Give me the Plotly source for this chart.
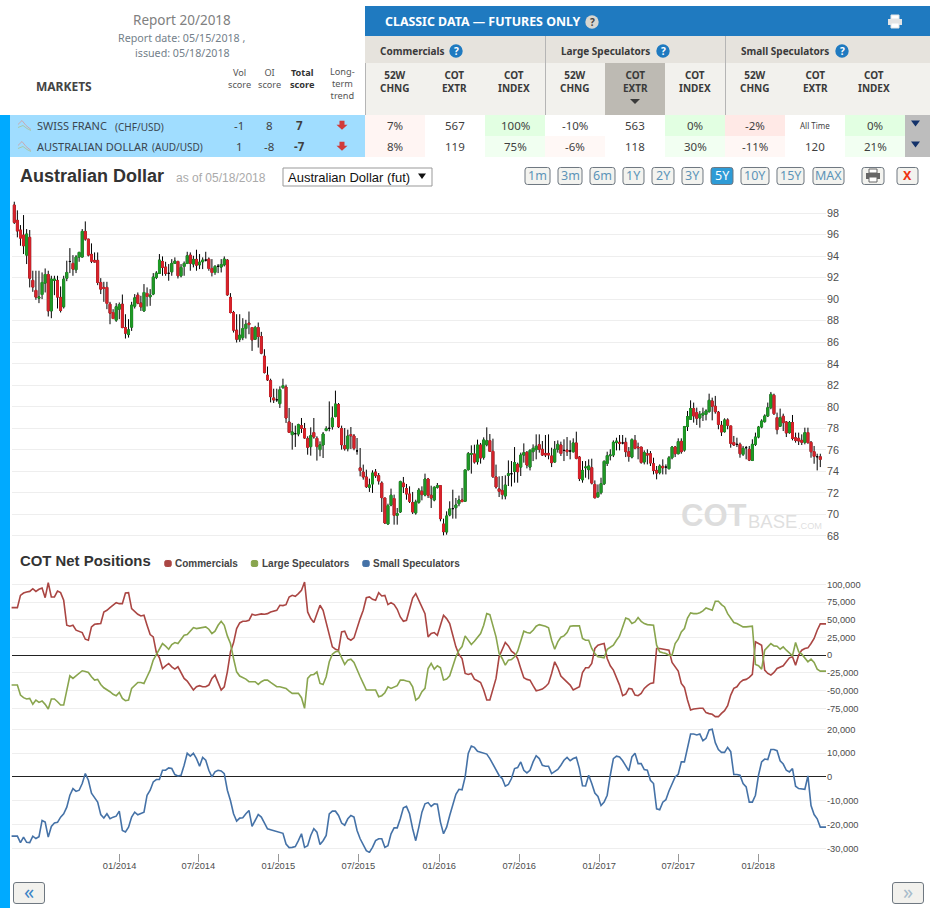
import plotly.graph_objects as go

# weekly AUD futures prices
opens = [98.74,97.32,96.42,95.95,94.09,95.74,91.74,90.81,90.09,90.43,
    91.49,92.29,88.91,91.74,91.74,90.16,89.29,91.95,93.5,93.32,
    92.73,93.91,93.91,96.29,95.58,94.16,93.6,93.6,91.55,91.09,
    91.09,89.53,88.76,88.05,89.07,89.53,87.36,86.71,87.4,89.35,
    90.37,89.63,88.91,90.53,90.22,90.47,92.02,92.39,93.5,92.98,
    92.4,92.54,93.32,93.5,92.17,93.04,93.32,94.09,93.26,93.69,
    93.19,93.47,93.63,93.72,92.85,92.48,93.05,92.98,93.19,93.63,
    90.16,88.76,87.12,86.28,86.43,87.27,87.77,87.36,86.28,87.36,
    86.53,84.7,82.93,82.43,80.82,80.65,80.29,81.78,81.84,78.59,
    77.41,77.5,77.47,78.25,77.97,77.04,76.3,77.6,77.07,76.02,
    76.45,77.81,78.0,78.15,79.11,80.2,77.97,76.39,76.11,77.41,
    77.29,75.9,74.32,73.94,73.48,72.52,72.83,73.94,73.6,72.92,
    71.53,69.11,70.88,71.47,69.92,70.23,72.92,72.4,71.9,71.1,
    70.14,71.13,72.15,71.81,73.29,71.78,71.34,72.52,72.67,69.11,
    68.37,69.95,70.54,70.63,71.0,71.34,71.22,74.16,75.59,75.62,
    74.9,76.45,75.31,76.48,76.85,75.86,73.48,72.37,72.23,71.71,
    73.63,73.78,74.0,74.65,74.4,75.52,75.77,74.4,75.83,76.02,
    76.48,76.05,75.67,75.67,75.43,74.87,76.05,76.45,75.95,75.98,
    75.89,75.83,76.64,75.33,73.22,74.34,74.16,74.34,72.79,71.64,
    72.02,72.85,74.74,75.46,75.52,76.67,76.7,76.64,76.7,75.83,
    75.33,76.88,76.26,76.26,74.87,75.64,75.64,74.71,74.09,73.88,
    74.47,74.4,74.25,75.27,76.26,75.64,76.79,75.98,78.16,78.84,
    79.83,79.46,78.96,79.24,79.3,79.55,80.54,80.05,79.49,78.28,
    77.69,78.78,78.22,76.67,76.51,76.51,75.58,76.2,76.05,75.02,
    76.51,77.19,78.12,78.62,79.15,79.92,81.07,78.99,78.19,79.12,
    78.59,77.6,78.53,77.13,77.07,76.88,76.7,77.6,76.7,75.83,
    75.36,75.36]
highs = [99.05,98.25,96.88,97.81,96.51,96.42,92.64,92.64,92.64,92.48,
    92.85,92.64,92.17,92.17,92.17,91.18,92.17,93.57,94.74,94.09,
    94.09,94.4,96.51,97.22,95.58,95.18,94.34,94.34,91.95,91.61,
    91.61,89.75,89.07,89.63,89.69,90.43,88.6,88.14,89.75,90.47,
    90.62,90.31,91.4,91.09,90.93,92.42,92.6,94.19,93.97,93.47,
    93.26,93.72,93.88,93.57,93.26,93.5,94.4,94.34,94.03,94.59,
    94.19,93.88,94.4,93.88,93.72,93.16,93.26,93.72,93.97,93.72,
    90.56,88.91,88.6,88.6,88.23,88.08,88.85,87.36,87.52,87.83,
    86.96,85.35,83.74,82.61,81.68,81.68,81.9,82.61,82.06,79.89,
    78.5,78.25,78.43,78.96,78.5,77.26,78.09,78.96,77.26,76.79,
    77.66,78.19,80.5,80.04,81.5,80.35,78.25,78.03,77.88,78.12,
    77.47,77.1,76.17,74.63,74.16,73.33,74.1,74.22,73.85,73.08,
    71.53,71.0,72.4,71.84,70.6,73.14,73.48,72.83,72.61,72.09,
    71.37,72.46,72.61,73.79,73.39,72.67,72.61,72.92,72.67,69.61,
    70.29,71.22,72.3,71.53,71.75,72.46,74.16,75.8,76.42,76.48,
    76.95,76.64,77.16,78.09,77.47,77.04,74.63,73.54,73.57,73.63,
    75.02,74.96,76.26,74.81,75.74,76.6,75.89,76.05,76.51,77.44,
    77.44,76.82,77.38,77.44,76.2,76.82,76.88,76.76,76.98,77.19,
    76.88,77.07,77.69,75.43,74.96,74.96,75.12,75.18,73.16,72.79,
    73.41,75.02,75.83,76.05,76.88,77.13,77.38,77.38,77.13,76.26,
    77.07,77.38,76.67,76.26,75.95,76.05,75.89,75.27,74.5,74.65,
    75.12,74.65,75.43,76.36,76.36,77.07,77.07,78.22,79.61,80.6,
    80.39,79.92,79.61,79.92,79.77,81.22,80.85,81.01,79.61,78.68,
    78.93,78.93,78.22,77.29,77.13,76.67,76.36,76.36,76.36,76.98,
    77.6,78.22,78.84,79.3,80.39,81.38,81.22,79.46,79.83,79.36,
    78.68,78.68,79.24,77.6,77.6,77.44,78.06,78.06,76.82,76.36,
    75.64,75.64]
lows = [96.98,95.74,94.96,94.19,93.26,91.09,90.68,89.94,89.63,90.0,
    90.62,88.39,88.23,90.37,89.13,88.76,89.13,91.67,92.42,92.17,
    92.42,93.47,93.88,95.43,93.97,93.35,93.41,91.3,90.47,89.75,
    89.07,87.67,88.14,87.89,88.14,87.3,86.34,86.43,87.05,89.13,
    89.53,88.91,88.82,89.32,89.38,90.37,91.86,92.33,92.17,92.17,
    91.71,92.17,93.26,91.92,92.02,92.17,93.26,92.64,92.95,92.64,
    92.79,92.79,93.5,92.64,92.11,92.26,92.42,92.48,93.04,90.31,
    88.67,86.9,85.97,86.03,86.19,86.34,86.74,85.19,86.22,85.5,
    84.88,83.09,82.4,80.41,80.35,80.45,79.89,81.68,78.5,77.57,
    76.02,76.27,77.26,77.57,77.04,75.55,75.46,77.04,75.0,75.4,
    75.24,77.72,77.72,77.88,79.02,78.03,76.02,75.93,75.86,76.08,
    75.96,75.55,73.54,73.23,72.46,72.09,72.0,73.39,72.77,70.23,
    69.11,69.05,70.76,69.05,69.05,70.14,71.99,71.37,71.06,70.04,
    69.98,71.0,71.31,71.68,71.53,70.6,71.22,72.4,69.36,68.06,
    68.12,69.83,69.61,69.61,70.76,71.16,71.16,74.07,73.79,74.72,
    74.63,74.72,75.09,76.33,75.8,73.39,72.4,71.62,71.4,71.4,
    72.64,72.6,72.95,72.95,73.57,74.81,74.28,74.09,74.96,75.12,
    75.74,75.43,75.33,75.12,74.4,74.81,75.74,75.43,74.96,75.43,
    75.12,75.74,75.12,73.1,72.95,73.41,73.26,72.79,71.49,71.55,
    71.86,72.73,74.5,75.02,75.33,75.95,75.95,76.51,75.33,74.9,
    75.21,76.05,75.12,74.71,74.65,74.65,74.5,73.72,73.26,73.72,
    73.72,73.72,74.19,75.12,75.33,75.58,75.64,75.83,77.75,78.78,
    78.53,78.31,78.06,78.68,78.74,79.46,78.74,79.36,77.91,77.29,
    77.6,77.91,76.2,76.36,76.26,75.27,75.43,75.12,74.96,74.96,
    76.36,77.07,78.0,78.53,79.05,79.77,79.24,77.44,78.12,77.75,
    77.19,77.5,76.88,76.67,76.45,76.45,76.51,76.57,75.27,74.71,
    74.09,74.4]
closes = [97.13,96.33,95.67,94.96,96.05,91.95,91.12,90.19,90.19,91.55,
    92.29,88.91,91.86,91.86,90.19,88.95,91.86,92.48,93.5,92.79,
    93.91,94.34,96.29,95.58,94.09,93.53,93.44,91.55,90.93,90.99,
    89.6,88.7,88.2,89.29,89.5,87.36,86.84,87.15,89.44,90.12,
    89.63,89.29,90.62,90.25,90.37,92.05,92.42,93.63,92.95,92.39,
    92.4,93.32,93.53,92.17,92.95,93.32,94.03,93.32,93.69,93.16,
    93.44,93.63,93.63,92.85,92.48,93.04,93.05,93.22,93.72,90.4,
    88.76,87.12,86.28,86.65,87.27,87.67,87.64,86.22,87.36,86.53,
    84.98,83.18,82.5,80.94,80.63,80.65,81.59,81.96,78.96,77.63,
    77.66,77.5,78.34,78.0,77.1,76.24,77.32,77.2,76.3,76.45,
    77.47,77.97,78.0,78.96,80.26,78.15,76.48,76.11,77.29,77.32,
    76.14,75.9,74.07,73.48,72.58,72.74,73.85,73.6,73.11,71.56,
    69.21,70.82,71.78,69.92,70.07,73.05,72.58,71.9,71.22,70.23,
    71.16,72.27,71.84,73.29,71.78,71.53,72.52,72.67,69.61,68.4,
    69.86,70.51,70.54,70.88,71.34,71.19,74.13,75.65,75.65,74.87,
    76.45,75.24,76.92,76.85,75.86,73.51,72.55,72.15,71.86,72.73,
    73.78,73.78,74.81,73.97,75.52,75.74,74.59,75.95,76.14,76.33,
    76.05,75.52,75.52,75.52,74.81,76.05,76.51,75.67,75.95,75.83,
    75.89,76.64,75.21,73.35,74.09,74.4,74.5,72.91,71.55,72.02,
    72.85,74.93,75.46,75.52,76.7,76.82,76.6,76.64,75.83,75.4,
    76.95,76.14,76.2,74.84,75.74,75.52,74.78,74.09,73.84,74.5,
    74.34,74.4,75.27,76.26,75.64,76.76,75.83,78.16,79.09,79.83,
    79.15,78.93,79.3,79.4,79.61,80.6,80.05,79.55,78.37,77.66,
    78.78,78.28,76.6,76.45,76.51,75.64,76.14,76.2,75.05,76.51,
    77.19,78.12,78.68,79.15,79.92,81.16,79.36,77.88,78.99,78.53,
    77.57,78.53,77.07,76.88,76.82,76.7,77.6,76.67,75.83,75.4,
    75.36,75.12]

# net positions in thousands of contracts, one value per week
commercials_k = [67.1,67.1,67.1,84.4,87.7,89.1,90.0,93.8,90.0,92.9,
    94.7,81.1,102.2,82.1,82.1,90.5,88.2,77.4,42.2,40.8,
    42.2,35.2,33.8,31.9,22.5,21.1,39.9,43.6,44.1,44.6,
    61.0,63.3,67.1,71.3,74.1,72.7,72.7,87.7,88.2,65.7,
    61.0,57.7,55.3,56.3,42.2,29.1,25.8,3.8,-3.8,-18.8,
    -15.0,-11.7,-16.4,-19.7,-16.4,-25.8,-32.8,-36.6,-42.2,-49.2,
    -44.6,-43.1,-44.6,-44.6,-42.2,-32.8,-28.1,-39.9,-49.2,-44.6,
    -23.5,4.7,17.4,37.5,45.5,47.8,47.8,49.2,57.7,56.3,
    57.7,58.2,57.7,58.6,61.0,62.4,63.3,70.4,69.9,71.3,
    82.1,84.4,83.0,86.8,91.5,103.2,61.0,51.6,46.0,58.6,
    70.4,63.3,46.9,30.5,11.7,8.4,7.0,32.8,33.8,23.5,
    21.1,24.4,39.9,51.6,63.3,81.1,82.1,78.8,77.4,88.2,
    83.5,84.4,71.3,74.1,71.3,64.7,53.9,47.8,49.2,65.7,
    80.7,86.8,77.4,68.0,58.6,25.8,30.5,31.9,28.1,42.2,
    56.3,51.6,44.6,28.1,11.7,0.9,-4.7,-25.8,-27.2,-25.8,
    -33.8,-36.1,-38.5,-49.2,-63.3,-63.3,-49.2,-32.8,-2.3,8.4,
    17.8,13.1,5.6,2.3,-4.7,-18.8,-31.9,-34.2,-35.2,-43.1,
    -50.2,-49.2,-47.8,-44.6,-39.9,-25.8,-9.4,-17.8,-29.5,-33.8,
    -38.5,-42.2,-49.2,-46.9,-44.6,-24.4,-17.8,-17.8,-11.7,9.4,
    14.1,15.5,16.4,-4.7,-15.0,-21.1,-32.8,-42.2,-57.2,-54.9,
    -46.9,-47.8,-56.3,-57.2,-53.9,-46.9,-43.1,-39.9,-38.9,9.4,
    9.4,8.4,8.0,7.0,-10.3,-16.4,-22.5,-39.9,-45.5,-63.3,
    -77.4,-76.0,-75.0,-75.0,-75.0,-81.1,-82.5,-83.5,-86.8,-86.8,
    -82.1,-78.3,-71.3,-56.3,-46.9,-44.6,-38.5,-35.2,-34.2,-31.4,
    -27.2,18.8,16.4,14.1,-21.1,-25.8,-28.1,-24.4,-18.8,-16.4,
    -15.0,-9.4,-3.8,-2.3,-14.1,0,7.0,9.4,10.3,16.4,
    23.5,35.2,44.1,44.1,44.1]
large_specs_k = [-42.2,-42.2,-42.2,-56.3,-60.0,-61.9,-61.0,-69.4,-63.3,-66.6,
    -64.7,-69.4,-76.0,-61.9,-61.9,-65.7,-70.4,-70.4,-46.9,-29.1,
    -32.8,-29.1,-25.8,-22.0,-23.0,-24.4,-30.5,-35.2,-34.2,-41.3,
    -46.0,-48.3,-51.6,-55.3,-57.2,-52.5,-61.0,-64.3,-63.3,-46.9,
    -42.2,-38.5,-38.5,-39.9,-30.5,-21.1,-7.0,0.9,7.0,16.4,
    12.7,8.4,15.0,17.8,16.4,22.5,28.1,29.1,33.8,38.9,
    37.5,38.5,39.9,39.9,36.6,30.5,33.8,42.2,47.8,42.2,
    27.2,16.4,-4.7,-23.5,-29.5,-31.4,-33.8,-37.5,-37.5,-37.5,
    -41.3,-37.5,-35.2,-35.2,-38.5,-42.2,-44.6,-44.6,-46.0,-46.9,
    -50.7,-53.9,-53.9,-53.9,-60.0,-75.0,-32.8,-28.1,-27.2,-23.5,
    -39.9,-41.3,-30.5,-9.4,1.4,4.7,5.6,-4.7,-13.1,-7.0,
    -5.6,-10.3,-21.1,-30.5,-39.9,-49.2,-49.2,-49.2,-49.2,-58.6,
    -57.2,-53.0,-44.6,-46.9,-44.6,-43.1,-35.2,-35.2,-36.6,-37.5,
    -44.6,-63.3,-60.0,-51.6,-46.9,-18.8,-11.7,-19.7,-15.0,-17.8,
    -35.2,-33.8,-29.1,-14.1,-2.3,7.0,12.2,27.2,21.1,15.0,
    19.7,25.3,30.5,42.2,58.6,57.2,42.2,25.8,2.3,-4.7,
    -14.1,-7.0,-6.1,-2.3,5.6,18.8,33.8,31.9,31.0,35.2,
    40.8,43.1,42.2,40.8,38.5,21.1,8.4,18.8,25.3,27.2,
    31.9,40.8,41.3,41.3,41.3,23.5,21.1,21.1,9.4,2.3,
    -2.3,-2.8,-3.8,8.4,11.7,14.1,21.1,27.2,39.9,52.5,
    50.7,44.6,46.9,53.0,47.8,44.6,43.1,42.2,42.2,14.1,
    4.7,3.3,2.3,0,0,16.4,22.5,32.8,37.5,52.5,
    59.6,58.6,58.6,60.0,62.4,66.6,64.7,63.3,76.0,76.0,
    71.3,68.0,58.6,52.5,46.0,44.6,42.2,39.9,39.9,40.8,
    40.8,-13.1,-15.0,-19.7,7.0,11.7,16.4,13.1,12.7,8.4,
    11.7,7.0,2.3,-0.9,17.8,4.7,1.4,-4.7,-9.4,-5.6,
    -10.3,-19.7,-22.5,-22.5,-22.5]
small_specs_k = [-24.9,-24.9,-24.9,-27.6,-25.3,-27.5,-27.6,-24.9,-25.9,-25.1,
    -18.3,-19.0,-25.3,-20.8,-19.4,-19.1,-16.9,-15.5,-12.7,-7.7,
    -4.9,-6.1,-5.6,-2.8,1.4,-1.4,-6.8,-8.7,-10.6,-15.8,
    -17.3,-15.5,-17.6,-16.9,-16.5,-14.4,-22.5,-23.1,-21.1,-16.9,
    -14.8,-15.9,-15.5,-14.8,-7.7,-5.6,-2.1,-1.1,-1.1,2.8,
    2.8,3.8,3.5,1.0,0.4,0.7,4.9,9.9,8.7,9.9,
    7.7,4.5,8.2,7.0,2.8,0,2.1,2.8,2.5,1.4,
    -5.6,-9.9,-15.5,-18.6,-17.3,-17.2,-15.5,-14.1,-20.8,-18.3,
    -15.8,-16.9,-19.7,-21.8,-22.2,-22.5,-23.0,-23.4,-23.7,-28.2,
    -29.7,-29.6,-29.3,-26.8,-23.9,-29.6,-28.9,-24.6,-21.8,-23.2,
    -28.4,-26.8,-24.6,-15.5,-14.4,-14.4,-16.2,-19.4,-20.3,-17.6,
    -16.2,-16.9,-22.5,-26.0,-28.2,-31.0,-31.7,-29.6,-26.8,-26.0,
    -26.0,-29.6,-28.9,-23.9,-21.4,-21.4,-17.6,-13.0,-12.4,-15.5,
    -21.8,-26.8,-21.1,-14.8,-11.3,-10.8,-12.4,-11.3,-11.5,-19.0,
    -23.9,-21.1,-16.2,-11.3,-7.3,-5.2,-5.4,0,9.9,13.0,
    12.4,10.8,10.4,10.0,9.6,7.7,5.4,2.8,0.6,-0.7,
    -3.9,-3.2,-0.7,3.5,3.9,6.3,2.8,1.7,2.8,6.3,
    8.9,7.7,4.9,4.5,4.5,1.4,2.1,3.1,4.9,7.0,
    8.2,6.8,7.7,8.2,3.5,-3.7,-3.8,0.7,-2.8,-6.8,
    -8.2,-12.0,-10.6,-7.7,0.7,7.7,8.7,8.4,6.8,4.9,
    2.5,8.4,9.9,5.6,5.6,3.1,2.8,-1.4,-2.8,-13.4,
    -13.8,-10.6,-9.6,-5.9,-2.8,0,1.1,6.3,6.3,12.0,
    18.0,18.0,17.6,18.0,15.2,16.2,19.7,20.0,14.4,11.5,
    10.3,10.3,12.4,10.6,1.0,1.0,0.7,-2.8,-4.2,-10.6,
    -10.6,-7.7,0.7,6.3,7.5,7.3,11.5,11.5,11.0,6.8,
    5.4,2.8,2.1,3.5,-3.9,-4.9,-5.1,-5.2,0.4,-12.0,
    -15.8,-17.6,-21.1,-21.1,-21.1]

# the axis is ordinal: week number, the month ticks sit between candles
tick_weeks = [34.1, 59.6, 85.5, 111.4, 137.6, 163.5, 189.4, 215, 240.9]
tick_months = ["01/2014", "07/2014", "01/2015", "07/2015", "01/2016", "07/2016", "01/2017", "07/2017", "01/2018"]

price_ticks = [68, 70, 72, 74, 76, 78, 80, 82, 84, 86, 88, 90, 92, 94, 96, 98]
net_ticks = [-75000, -50000, -25000, 0, 25000, 50000, 75000, 100000]
net_labels = ["-75,000", "-50,000", "-25,000", "0", "25,000", "50,000", "75,000", "100,000"]
small_ticks = [-30000, -20000, -10000, 0, 10000, 20000]
small_labels = ["-30,000", "-20,000", "-10,000", "0", "10,000", "20,000"]

candle_weeks = list(range(len(closes)))
cot_weeks = list(range(-1, 264))

W, H = 930, 908
ARIAL = "Liberation Sans"
UI = "Noto Sans"


def fx(x):
    return x / W


def fy(y):
    return 1 - y / H


shapes = []
notes = []


def rect(x0, y0, x1, y1, fill, line=None):
    shapes.append(dict(type="rect", xref="paper", yref="paper", x0=fx(x0), x1=fx(x1), y0=fy(y0), y1=fy(y1),
        fillcolor=fill, line=dict(color=line or fill, width=1 if line else 0), layer="above"))


def rounded(x0, y0, x1, y1, fill, line, r=2.5):
    p = lambda x, y: f"{fx(x):.5f} {fy(y):.5f}"
    path = (f"M {p(x0 + r, y0)} L {p(x1 - r, y0)} Q {p(x1, y0)} {p(x1, y0 + r)} L {p(x1, y1 - r)} Q {p(x1, y1)} {p(x1 - r, y1)} "
            f"L {p(x0 + r, y1)} Q {p(x0, y1)} {p(x0, y1 - r)} L {p(x0, y0 + r)} Q {p(x0, y0)} {p(x0 + r, y0)} Z")
    shapes.append(dict(type="path", xref="paper", yref="paper", path=path, fillcolor=fill,
        line=dict(color=line, width=1), layer="above"))


def poly(points, fill=None, line=None, width=1):
    path = "M " + " L ".join(f"{fx(x):.5f} {fy(y):.5f}" for x, y in points)
    if fill:
        path += " Z"
    shapes.append(dict(type="path", xref="paper", yref="paper", path=path, fillcolor=fill,
        line=dict(color=line or fill, width=width if line else 0), layer="above"))


def vline(x, y0, y1, color):
    shapes.append(dict(type="line", xref="paper", yref="paper", x0=fx(x), x1=fx(x), y0=fy(y0), y1=fy(y1),
        line=dict(color=color, width=1), layer="above"))


def txt(x, y, text, size=12, color="#444444", anchor="center", font=UI):
    notes.append(dict(xref="paper", yref="paper", x=fx(x), y=fy(y), text=text, showarrow=False, xanchor=anchor,
        yanchor="middle", font=dict(size=size, color=color, family=font), borderpad=0, borderwidth=0))


def help_icon(x, y, fill="#1F7AC0", mark="white"):
    shapes.append(dict(type="circle", xref="paper", yref="paper", x0=fx(x - 6.7), x1=fx(x + 6.7), y0=fy(y - 6.7), y1=fy(y + 6.7),
        fillcolor=fill, line=dict(width=0), layer="above"))
    txt(x, y, "<b>?</b>", 10, mark)


def printer(x, y, color):
    rect(x - 4, y - 7, x + 4, y - 3, "#FFFFFF", color)
    rect(x - 7, y - 3, x + 7, y + 3, color)
    rect(x - 4, y + 1, x + 4, y + 6, "#FFFFFF", color)


def button(x0, x1, label, active=False, color="#5C93B8"):
    fill = "#2E9BD6" if active else "#F3F3EF"
    rounded(x0, 167.5, x1, 184.5, fill, "#6E7780")
    txt((x0 + x1) / 2, 176, label, 12.5, "#FFFFFF" if active else color)


# header panel
rect(365, 6, 930, 36, "#1F7AC0")
rect(365, 36, 930, 63, "#E6E3DD")
rect(365, 63, 905, 115, "#F2F1ED")
rect(905, 63, 930, 115, "#F2F1ED")
rect(605, 63, 665, 115, "#BDBAB3")
vline(365.5, 63, 115, "#B5B5B5")
vline(545.5, 36, 115, "#B5B5B5")
vline(725.5, 36, 115, "#B5B5B5")
txt(385, 22, "<b>CLASSIC DATA — FUTURES ONLY</b>", 12.4, "#FFFFFF", "left")
help_icon(592, 22, "#D8D6D0", "#444444")
printer(895, 22, "#E4E4E4")
for x, name, icon in [(380, "Commercials", 456), (561, "Large Speculators", 663), (741, "Small Speculators", 842)]:
    txt(x, 51, f"<b>{name}</b>", 10, "#3A3A3A", "left")
    help_icon(icon, 51)
for x, top, low in [(394, "52W", "CHNG"), (454, "COT", "EXTR"), (514, "COT", "INDEX"), (574, "52W", "CHNG"),
                    (635, "COT", "EXTR"), (695, "COT", "INDEX"), (754, "52W", "CHNG"), (815, "COT", "EXTR"),
                    (874, "COT", "INDEX")]:
    txt(x, 81.5, f"<b>{top}<br>{low}</b>", 10, "#3A3A3A")
poly([(630, 99), (640, 99), (635, 104)], fill="#3A3A3A")

txt(182, 20, "Report 20/2018", 13.5, "#808080")
txt(182, 38, "Report date: 05/15/2018 ,", 10.7, "#73808A")
txt(182, 53, "issued: 05/18/2018", 10.7, "#73808A")
txt(36, 86.5, "<b>MARKETS</b>", 12, "#444444", "left")
txt(239, 78.5, "Vol<br>score", 9.2, "#555555")
txt(269, 78.5, "OI<br>score", 9.2, "#555555")
txt(302, 78.5, "<b>Total<br>score</b>", 9.2, "#333333")
txt(342, 83.5, "Long-<br>term<br>trend", 9.2, "#555555")

# the two market rows
rect(0, 115, 10, 908, "#00AAFF")
rect(10, 115, 365, 157, "#A0DDFF")
cell_x = [365, 425, 485, 545, 605, 665, 725, 785, 845]
row_one = [("7%", "#FFF5F3"), ("567", "#FFFFFF"), ("100%", "#E2FFE2"), ("-10%", "#FFFFFF"), ("563", "#FFFFFF"),
    ("0%", "#E2FFE2"), ("-2%", "#FFE9E6"), ("All Time", "#FFFFFF"), ("0%", "#E2FFE2")]
row_two = [("8%", "#FFF5F3"), ("119", "#FFFFFF"), ("75%", "#F1FFF1"), ("-6%", "#FFF8F6"), ("118", "#FFFFFF"),
    ("30%", "#F2FFF2"), ("-11%", "#FFF7F5"), ("120", "#FFFFFF"), ("21%", "#F2FFF2")]
for (y0, y1), row in [((115, 136), row_one), ((136, 157), row_two)]:
    for x, (label, fill) in zip(cell_x, row):
        rect(x, y0, x + 60, y1, fill)
        txt(x + 30, (y0 + y1) / 2 + 0.5, label, 8 if label == "All Time" else 11.5, "#3F3F3F")
    rect(905, y0, 930, y1, "#BDBDBD")
    mid = (y0 + y1) / 2 - 2
    poly([(911, mid - 3), (920, mid - 3), (915.5, mid + 3)], fill="#14336B")
    poly([(18, mid + 1), (22, mid - 3), (26, mid + 2), (31, mid + 6)], line="#C9A9B0")
    poly([(18, mid + 4), (23, mid + 2), (27, mid + 5), (31, mid + 7)], line="#A8C8A8")
    top = mid - 2.8
    poly([(339.5, top), (344.5, top), (344.5, top + 4), (347.5, top + 4), (342, top + 9), (336.5, top + 4), (339.5, top + 4)], fill="#D03A3A")

txt(37, 126, "SWISS FRANC", 11, "#3A4650", "left")
txt(115, 126.5, "(CHF/USD)", 10, "#3A4650", "left")
txt(37, 147, "AUSTRALIAN DOLLAR", 11, "#3A4650", "left")
txt(152, 147.5, "(AUD/USD)", 10, "#3A4650", "left")
for y, vol, oi, total in [(126, "-1", "8", "7"), (147, "1", "-8", "-7")]:
    txt(239, y, vol, 11.5, "#3F3F3F")
    txt(269, y, oi, 11.5, "#3F3F3F")
    txt(299, y, f"<b>{total}</b>", 11.5, "#3F3F3F")

# chart title row
txt(20, 176, "<b>Australian Dollar</b>", 18, "#333333", "left", ARIAL)
txt(176, 177.5, "as of 05/18/2018", 12, "#AAAAAA", "left", ARIAL)
rect(283, 168, 432, 186, "#FFFFFF", "#999999")
txt(288, 177, "Australian Dollar (fut)", 13, "#111111", "left", ARIAL)
poly([(418, 173.5), (426, 173.5), (422, 179)], fill="#111111")
for x0, x1, label in [(525, 550, "1m"), (558, 582, "3m"), (590, 615, "6m"), (623, 644, "1Y"), (652, 674, "2Y"),
                      (682, 703, "3Y"), (741, 769, "10Y"), (777, 804, "15Y"), (813, 844, "MAX")]:
    button(x0, x1, label)
button(711, 733, "5Y", active=True)
button(862, 884, "")
printer(873, 176, "#666666")
button(897, 918, "<b>X</b>", color="#EE3311")

# watermark
txt(681, 515, "<b>COT</b>", 31, "#DDDDDD", "left", ARIAL)
txt(748, 521, "BASE", 18.5, "#DFDFDF", "left", ARIAL)
txt(798, 525.5, ".COM", 9.2, "#DFDFDF", "left", ARIAL)

# net positions title with hand placed legend
txt(20, 561, "<b>COT Net Positions</b>", 14.9, "#333333", "left", ARIAL)
for x, text_x, name, color in [(168, 175, "Commercials", "#AA4643"), (254.5, 262, "Large Speculators", "#89A54E"),
                               (366, 373, "Small Speculators", "#4572A7")]:
    rounded(x - 3.2, 560.5, x + 3.2, 566.5, color, color, r=1.5)
    txt(text_x, 563.5, f"<b>{name}</b>", 10, "#444444", "left", ARIAL)

# pager buttons
rounded(13.5, 882.5, 44.5, 903.5, "#F2F1ED", "#6E7780")
txt(29, 891, "«", 20, "#3D85C6")
rounded(892.5, 882.5, 923.5, 903.5, "#F2F1ED", "#6E7780")
txt(908, 891, "»", 20, "#A8BCCB")

fig = go.Figure()
# black wicks first, coloured bodies on top of them
fig.add_trace(go.Candlestick(
    x=candle_weeks, open=opens, high=highs, low=lows, close=closes,
    increasing=dict(line=dict(color="#000000", width=1), fillcolor="#000000"),
    decreasing=dict(line=dict(color="#000000", width=1), fillcolor="#000000"),
    whiskerwidth=0, yaxis="y", hoverinfo="skip",
))
body_open = [o if o != c else None for o, c in zip(opens, closes)]
body_close = [c if o != c else None for o, c in zip(opens, closes)]
body_high = [max(o, c) if o != c else None for o, c in zip(opens, closes)]
body_low = [min(o, c) if o != c else None for o, c in zip(opens, closes)]
fig.add_trace(go.Candlestick(
    x=candle_weeks, open=body_open, high=body_high, low=body_low, close=body_close,
    increasing=dict(line=dict(color="#1F9A26", width=1), fillcolor="#1F9A26"),
    decreasing=dict(line=dict(color="#D9232B", width=1), fillcolor="#D9232B"),
    whiskerwidth=0, yaxis="y", hoverinfo="skip",
))
fig.add_trace(go.Scatter(x=cot_weeks, y=[v * 1000 for v in commercials_k], mode="lines", name="Commercials",
    line=dict(color="#AA4643", width=1.6), yaxis="y2", hoverinfo="skip"))
fig.add_trace(go.Scatter(x=cot_weeks, y=[v * 1000 for v in large_specs_k], mode="lines", name="Large Speculators",
    line=dict(color="#89A54E", width=1.6), yaxis="y2", hoverinfo="skip"))
fig.add_trace(go.Scatter(x=cot_weeks, y=[v * 1000 for v in small_specs_k], mode="lines", name="Small Speculators",
    line=dict(color="#4572A7", width=1.6), yaxis="y3", hoverinfo="skip"))

tick_font = dict(family=ARIAL, size=9.3, color="#4D4D4D")
fig.update_layout(
    width=W, height=H, autosize=False,
    margin=dict(l=0, r=0, t=0, b=0),
    paper_bgcolor="white", plot_bgcolor="white",
    showlegend=False, hovermode=False,
    boxmode="overlay", boxgap=0.12,
    shapes=shapes, annotations=notes,
    xaxis=dict(domain=[fx(11.5), fx(826)], range=[-0.9, 262.85], anchor="y3", showgrid=False, zeroline=False,
        rangeslider=dict(visible=False), tickmode="array", tickvals=tick_weeks, ticktext=tick_months,
        ticks="outside", ticklen=8, tickcolor="#999999", tickwidth=1, ticklabelstandoff=-4, tickfont=tick_font),
    yaxis=dict(domain=[fy(542), fy(200)], range=[67.44, 99.21], anchor="x", side="right", tickmode="array",
        tickvals=price_ticks, gridcolor="#EEEEEE", gridwidth=1, zeroline=False, ticks="", tickfont=dict(family=ARIAL, size=10.8, color="#4D4D4D")),
    yaxis2=dict(domain=[fy(720), fy(578)], range=[-91500, 108890], anchor="x", side="right", tickmode="array",
        tickvals=net_ticks, ticktext=net_labels, gridcolor="#EEEEEE", gridwidth=1, zeroline=True, zerolinecolor="#222222",
        zerolinewidth=1, ticks="", tickfont=tick_font),
    yaxis3=dict(domain=[fy(853), fy(723)], range=[-31975, 22650], anchor="x", side="right", tickmode="array",
        tickvals=small_ticks, ticktext=small_labels, gridcolor="#EEEEEE", gridwidth=1, zeroline=True, zerolinecolor="#222222",
        zerolinewidth=1, ticks="", tickfont=tick_font),
)

fig.write_html("out.html", config={"displayModeBar": False},
    post_script="document.body.style.margin='0';document.body.style.overflow='hidden';")
